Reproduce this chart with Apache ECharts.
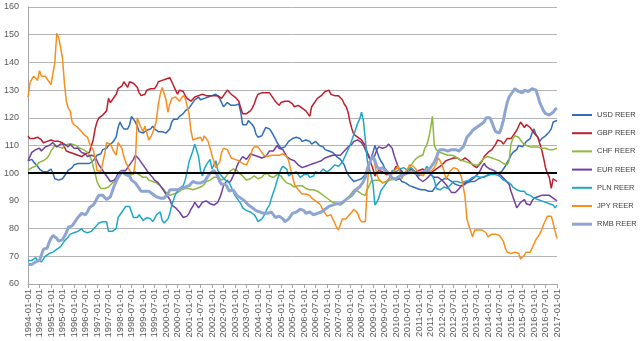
<!DOCTYPE html>
<html>
<head>
<meta charset="utf-8">
<script src="https://cdn.jsdelivr.net/npm/echarts@6/dist/echarts.min.js"></script>
<style>
  html, body { margin: 0; padding: 0; background: #ffffff; }
  #chart { width: 640px; height: 341px; }
</style>
</head>
<body>
<div id="chart"></div>
<script>
// Real effective exchange rate indices, monthly, January 1994 .. January 2017
const FIRST_YEAR = 1994;
const LAST_YEAR = 2017;
const LAST_MONTH = 1;
const months = [];
for (let y = FIRST_YEAR; y <= LAST_YEAR; y++) {
  for (let m = 1; m <= 12; m++) {
    if (y === LAST_YEAR && m > LAST_MONTH) break;
    months.push(y + '-' + String(m).padStart(2, '0') + '-01');
  }
}

const seriesNames = ['USD REER', 'GBP REER', 'CHF REER', 'EUR REER', 'PLN REER', 'JPY REER', 'RMB REER'];
const yMin = 60, yMax = 160, yStep = 10;
const parityLevel = 100;

// one row per year (Jan..Dec), last value is Jan 2017
const usdReer = [
  104.5, 105, 105, 104, 103.5, 102.5, 101.5, 101, 100.5, 100, 100.5, 101,
  101.5, 100, 98, 97.5, 97.5, 97.5, 98, 99, 100, 101, 101.5, 102,
  103, 103, 103.5, 103.5, 103.5, 103, 103.5, 103.5, 103.5, 104, 104.5, 105.5,
  106.5, 106, 107, 108.5, 109, 109, 110, 110, 111, 112, 113, 116.5,
  118.5, 117, 116, 115.5, 116, 117.5, 120.5, 119.5, 118.5, 117, 115, 114.5,
  114.5, 115, 115.5, 115.5, 116, 117, 116, 115.5, 115, 115, 115, 114.5,
  114.5, 115, 116, 118.5, 119.5, 119.5, 119.5, 120.5, 121, 121.5, 122.5, 123,
  123.5, 124.5, 125.5, 126.5, 127, 127.5, 126.5, 126.5, 127, 127, 127.5, 128,
  128, 128.5, 128.5, 128, 127, 125.5, 124, 124.5, 125.5, 125, 124.5, 124,
  124.5, 125, 125, 122, 117.5, 117, 117.5, 119, 119.5, 117.5, 116.5, 114,
  113, 112.5, 113.5, 115, 116.5, 116.5, 116, 115, 114.5, 112.5, 111, 110,
  109, 109, 109.5, 110.5, 111.5, 112, 112.5, 113, 113, 113, 112.5, 111.5,
  111.5, 112, 112.5, 111.5, 110.5, 110.5, 111.5, 111, 110, 110, 109.5, 108.5,
  108.5, 108, 107.5, 107.5, 107, 106, 105.5, 105, 104.5, 103, 101, 99.5,
  98.5, 98, 97, 97, 97.5, 97.5, 98, 98.5, 99.5, 101.5, 103.5, 105.5,
  107.5, 110, 110.5, 106, 104.5, 103.5, 102, 101, 100.5, 99.5, 98.5, 98,
  97.5, 97.5, 98, 97, 97, 96.5, 96, 95.5, 95.5, 95, 95, 94.5,
  94.5, 94, 94, 94, 94, 93.5, 93.5, 93.5, 94.5, 95.5, 96, 97,
  97.5, 98, 98.5, 98, 97.5, 97, 96.5, 96, 95.5, 95.5, 95.5, 95.5,
  96, 96.5, 97, 97, 96.5, 97, 97.5, 98, 98, 98.5, 98.5, 99,
  99, 99.5, 99.5, 100, 100, 100, 100.5, 100.5, 101, 102.5, 104, 105,
  106.5, 107.5, 108, 108.5, 110, 110, 109.5, 110.5, 111.5, 112, 112.5, 114.5,
  116, 114, 113, 111.5, 112.5, 113, 113.5, 114, 115, 116, 118.5, 119,
  119
];

const gbpReer = [
  113.5, 112.5, 112, 112.5, 112.5, 113, 112.5, 112, 111, 111, 111.5, 111.5,
  112, 112, 111.5, 111.5, 111.5, 111, 111, 110.5, 108, 108, 107.5, 107.5,
  107, 106.5, 106.5, 106, 106, 106, 107, 107.5, 107.5, 108, 112, 116,
  118.5, 120, 120.5, 121, 121.5, 122.5, 127, 125.5, 125.5, 127.5, 128.5, 130.5,
  131, 131.5, 133, 133, 131, 133, 132.5, 132.5, 132, 131, 129, 128,
  127.5, 128.5, 130, 130.5, 130.5, 130.5, 130.5, 131.5, 133, 133, 133.5, 133.5,
  134, 134.5, 134.5, 133, 131.5, 130, 128.5, 130, 130.5, 129.5, 128, 127,
  126.5, 126, 126, 127.5, 128, 128, 128, 128.5, 128, 128, 128, 128,
  128.5, 128, 128, 128, 127.5, 127, 128, 129, 130, 129.5, 128.5, 128,
  127.5, 127, 126, 123.5, 121.5, 121, 121.5, 122, 122.5, 123.5, 125, 127,
  128.5, 129, 129, 128.5, 129, 129.5, 129, 128.5, 127, 126, 125.5, 124.5,
  125.5, 126, 126, 126.5, 126, 126, 125, 124, 124.5, 124.5, 124, 123.5,
  123, 122.5, 121.5, 120.5, 124, 125, 126, 127, 127.5, 128, 128.5, 129.5,
  130, 130, 128.5, 128, 128, 128, 128, 128, 126.5, 125, 124, 122,
  118.5, 116, 114, 113.5, 113, 112.5, 112, 111, 110, 107.5, 106, 103.5,
  101.5, 99, 99.5, 101, 101, 100.5, 100.5, 99.5, 99, 99.5, 100, 101,
  102.5, 103, 101.5, 101, 100, 99.5, 100, 100.5, 101.5, 101, 100.5, 100.5,
  101, 101, 101.5, 101, 100.5, 100, 100, 100.5, 101, 101.5, 102, 102.5,
  103, 103.5, 104.5, 105, 105, 105, 105.5, 106, 105.5, 105, 104.5, 105,
  105.5, 105.5, 104.5, 104, 103, 102.5, 102, 102.5, 103.5, 104.5, 106, 106.5,
  107.5, 108, 108.5, 109.5, 110.5, 112, 112, 111.5, 110.5, 111, 112.5, 112.5,
  112.5, 113.5, 114.5, 115.5, 116, 118.5, 117.5, 116.5, 117.5, 118, 116.5, 115.5,
  114.5, 114, 113, 112.5, 108.5, 105.5, 102, 100, 98.5, 94.5, 98, 98,
  97
];

const chfReer = [
  101, 101.5, 102, 101.5, 102.5, 103, 104, 104.5, 104.5, 105, 105.5, 106.5,
  108, 109, 110, 110.5, 109.5, 109, 109, 110, 110, 110.5, 111, 110.5,
  110.5, 110, 109.5, 109, 109, 108.5, 108.5, 107.5, 106.5, 105, 102.5, 100,
  97, 95.5, 94.5, 94.5, 94.5, 95, 95, 95.5, 96.5, 97, 97.5, 98.5,
  100, 100.5, 100.5, 100.5, 100, 100, 99.5, 99, 100.5, 100, 99.5, 99,
  98.5, 98, 98.5, 97.5, 97, 97, 97, 96.5, 96.5, 95.5, 95, 94,
  93, 92.5, 92, 92, 92.5, 93, 93, 93.5, 94, 94, 94.5, 94.5,
  94.5, 94, 94, 94.5, 94.5, 94.5, 95, 95.5, 96, 97, 97.5, 97.5,
  98, 98.5, 99, 98.5, 98, 97.5, 98, 98.5, 99.5, 100.5, 101, 101.5,
  101.5, 101, 100, 99.5, 99, 98.5, 97.5, 98, 98, 98.5, 99, 99.5,
  98, 97.5, 98.5, 99.5, 99.5, 100, 99, 98.5, 98.5, 99, 99.5, 100,
  99, 98, 97.5, 96.5, 96.5, 96, 95.5, 95, 95, 95.5, 95.5, 95.5,
  95, 94.5, 94.5, 94, 93.5, 94, 94, 93.5, 93, 92.5, 92.5, 91.5,
  91, 90.5, 90, 89.5, 89, 89, 88.5, 88.5, 89, 89.5, 90.5, 91,
  92, 93, 94, 94, 93.5, 93, 92.5, 92, 92, 94, 95.5, 97,
  97.5, 97.5, 97.5, 97.5, 97, 96.5, 96.5, 97, 97, 97.5, 97.5, 98,
  98.5, 98.5, 99, 99.5, 100, 100.5, 101, 102, 103, 104, 105, 105.5,
  106, 106, 106.5, 109, 110, 112.5, 116, 120.5, 110, 108.5, 108, 107.5,
  107, 107, 106.5, 106.5, 106.5, 106.5, 106, 106, 105.5, 105, 105, 104.5,
  104.5, 104, 104, 103.5, 103.5, 103, 102.5, 103, 104, 104.5, 105.5, 106,
  106, 105.5, 105.5, 105, 105, 104.5, 104.5, 104, 103.5, 103, 103, 104.5,
  110.5, 112.5, 113.5, 113.5, 113, 112, 111, 110.5, 110, 109.5, 109.5, 109.5,
  109.5, 109.5, 109.5, 109.5, 109, 109, 109, 109, 108.5, 108.5, 108.5, 109,
  109
];

const eurReer = [
  104.5, 106, 107.5, 108, 108.5, 109, 109, 108, 108.5, 109.5, 109.5, 110,
  110.5, 111, 111, 109.5, 109, 110.5, 110.5, 110.5, 110, 109.5, 110.5, 110.5,
  109, 109, 109, 108.5, 107.5, 107.5, 107, 106, 106.5, 106.5, 107, 106,
  104.5, 103, 102, 101, 100, 99, 98.5, 97, 96.5, 97.5, 98.5, 100,
  100.5, 101, 100.5, 101, 102, 103, 104, 105, 106.5, 106, 105, 104,
  103, 102, 101, 100, 99.5, 98.5, 97.5, 97, 96.5, 95.5, 94.5, 93.5,
  92.5, 91.5, 90.5, 88.5, 88, 87.5, 87, 86, 85, 84, 83.5, 84.5,
  85.5, 87, 88, 89.5, 89, 87.5, 88.5, 89.5, 90, 90, 89.5, 89,
  89, 88.5, 88.5, 89.5, 91, 93, 95.5, 96.5, 97.5, 96.5, 97.5, 99,
  100.5, 102.5, 104, 105, 106, 105.5, 105, 106, 107, 106.5, 106.5, 106.5,
  106, 105.5, 105.5, 105.5, 106, 107, 108, 108, 108, 109, 110, 109,
  108.5, 108.5, 108, 106, 105.5, 105, 104.5, 104.5, 104, 103, 102.5, 102,
  102, 102.5, 102.5, 103, 103, 103.5, 103.5, 104, 104, 104.5, 105, 105.5,
  105.5, 106, 106, 106.5, 106.5, 106.5, 106, 106.5, 107, 108, 108.5, 109.5,
  110, 110.5, 111.5, 111.5, 112, 111.5, 111, 110, 108.5, 107, 105.5, 105,
  105, 106.5, 108.5, 109.5, 109.5, 109, 109.5, 109.5, 110.5, 110, 109, 106.5,
  104.5, 102.5, 101, 100.5, 100, 100, 100.5, 100.5, 100.5, 100.5, 100, 99,
  98, 97.5, 97, 97, 98, 98.5, 99.5, 99, 98.5, 98, 98.5, 98.5,
  97.5, 97, 96, 95, 94, 93, 92.5, 93, 93.5, 94.5, 95, 96,
  96.5, 97, 97.5, 97.5, 98, 98.5, 99, 100, 101, 102.5, 103.5, 102.5,
  102, 101.5, 101.5, 101, 101, 100, 99.5, 99, 98.5, 97.5, 97, 96,
  93.5, 91.5, 89.5, 87.5, 88.5, 89.5, 90, 90.5, 89, 88.5, 88.5, 90,
  91, 91.5, 91.5, 92, 92, 92.5, 92, 91.5, 92, 91.5, 91, 90.5,
  90
];

const plnReer = [
  68.5, 68.5, 68.5, 69, 69.5, 68.5, 68.5, 68, 69, 70, 70.5, 71,
  71, 71.5, 72, 72.5, 73, 73.5, 74.5, 75.5, 76, 77, 78, 78.5,
  78.5, 78.5, 79, 79.5, 80, 79, 78.5, 78.5, 79, 79, 79.5, 80.5,
  81, 82, 82.5, 82.5, 82.5, 82.5, 79, 79, 79, 79.5, 80, 84,
  85, 86, 87, 88, 88.5, 88, 88, 84, 83.5, 84, 85, 84,
  83, 82.5, 84, 84.5, 83.5, 82.5, 83.5, 85, 85.5, 86, 83, 82,
  82, 83.5, 85.5, 88.5, 90.5, 92.5, 93.5, 94.5, 95, 95.5, 97.5, 100.5,
  104, 106, 108, 110.5, 110, 106, 101, 99, 101.5, 103, 104, 105,
  101.5, 103, 104.5, 101, 100, 99, 98.5, 97.5, 97, 96.5, 95, 93.5,
  92, 91, 90.5, 89, 87.5, 87, 86.5, 86.5, 86, 85.5, 85, 84,
  82.5, 82, 83.5, 84.5, 86, 87.5, 88.5, 91, 93, 95, 97.5, 99.5,
  101.5, 102.5, 102, 101.5, 99, 99.5, 100, 100, 100.5, 100.5, 98.5, 99,
  99.5, 100, 99.5, 98.5, 98, 99, 100.5, 100, 100, 100.5, 101.5, 101,
  100.5, 101, 101.5, 102, 103, 103, 102.5, 103, 104, 105.5, 107, 108.5,
  110, 112, 114, 116, 118, 119.5, 122, 119, 112, 104.5, 102, 99,
  96, 88.5, 89.5, 91, 93.5, 94.5, 95, 96.5, 97.5, 99, 101, 101,
  100.5, 101, 101.5, 102, 102, 101.5, 101, 101, 102, 101.5, 100.5, 100,
  99, 99.5, 100, 101, 102.5, 101.5, 101, 99, 97.5, 94.5, 94.5, 94,
  94.5, 95, 95, 94.5, 95.5, 96, 97, 97.5, 97, 96.5, 96.5, 96.5,
  97, 97.5, 97.5, 98, 98.5, 99, 99, 98.5, 98.5, 98.5, 98.5, 99,
  99.5, 100, 99.5, 99.5, 99.5, 99, 99, 98.5, 97.5, 97.5, 97, 96.5,
  96, 95, 95, 94, 94, 93.5, 93, 93.5, 92.5, 92, 92, 91.5,
  91, 90.5, 90.5, 90, 90, 89.5, 89.5, 89, 89, 89, 88.5, 87.5,
  88.5
];

const jpyReer = [
  127.5, 132.5, 134, 135, 134.5, 133.5, 137, 135, 134.5, 135, 135, 133,
  132, 131.5, 140, 150.5, 149, 148.5, 141.5, 132.5, 126, 123.5, 122.5, 118.5,
  117.5, 117, 116.5, 116, 115, 114, 113.5, 113, 111, 109.5, 108.5, 105.5,
  101, 100.5, 100.5, 101, 107, 111, 111.5, 110.5, 110, 107.5, 106.5, 111,
  111, 109, 106, 104, 102.5, 101, 100.5, 99.5, 104, 120, 118, 116.5,
  115, 117, 114.5, 112, 113, 114.5, 116.5, 119, 125, 128.5, 131, 130.5,
  126.5, 122, 125, 127, 127, 127.5, 127.5, 126, 126.5, 128, 127, 126.5,
  121.5, 115.5, 112, 112.5, 112.5, 113, 113, 111.5, 113.5, 112.5, 111.5, 109,
  106.5, 104, 102, 102.5, 104, 107.5, 109, 108.5, 108.5, 107, 105.5, 105.5,
  105, 105, 104.5, 104, 103.5, 103, 103, 103.5, 106, 108.5, 109.5, 109.5,
  109.5, 109, 107.5, 106.5, 106, 106, 106, 106.5, 106.5, 106.5, 107, 106.5,
  107, 107, 106.5, 106, 104.5, 101.5, 99, 96, 95, 94, 93.5, 92.5,
  92, 92.5, 93, 92, 91, 90.5, 90, 89.5, 89, 88, 86.5, 85.5,
  84.5, 84.5, 85, 83.5, 82, 80.5, 79.5, 81.5, 83.5, 83.5, 83.5, 84.5,
  85, 86, 87, 86.5, 85.5, 83.5, 82.5, 82, 82.5, 95, 104, 105.5,
  106.5, 103, 99.5, 98, 97.5, 96.5, 96.5, 97, 97.5, 98.5, 100, 100.5,
  101.5, 102.5, 102, 98, 98.5, 100.5, 101.5, 103, 103.5, 102.5, 102, 101,
  100, 99.5, 99, 100, 101.5, 101, 100.5, 100.5, 102, 103.5, 105.5, 104.5,
  103, 101, 98, 99, 100.5, 101, 102, 102.5, 101.5, 100.5, 99, 95.5,
  91.5, 83.5, 81, 79, 77, 79.5, 80, 79.5, 79.5, 79.5, 79.5, 78.5,
  77, 77.5, 78, 78, 78, 78, 77.5, 77, 75.5, 73, 71.5, 71,
  71, 71.5, 71.5, 71, 71, 69, 68.5, 70.5, 71.5, 71.5, 71.5, 73,
  74.5, 76, 77, 78, 79.5, 81.5, 83, 84.5, 85, 84.5, 82, 79,
  76.5
];

const rmbReer = [
  67, 67, 67, 67.5, 68, 68.5, 68.5, 70.5, 72.5, 72.5, 73, 75,
  76.5, 77.5, 77, 76.5, 75.5, 75.5, 76, 76.5, 78.5, 80.5, 80.5, 81,
  82, 82.5, 84, 84.5, 85.5, 85.5, 85, 86, 87.5, 87.5, 88.5, 89.5,
  91, 92, 92.5, 92, 91.5, 90.5, 90.5, 91.5, 93.5, 95.5, 97, 98.5,
  99.5, 100.5, 100.5, 99.5, 99, 99, 97.5, 97, 96.5, 95.5, 94.5, 93.5,
  93.5, 93.5, 93.5, 93.5, 93, 92.5, 92, 91.5, 91.5, 91, 91, 91,
  91.5, 92.5, 94, 94, 94, 94, 94, 94, 94.5, 95, 95, 95.5,
  95.5, 96, 97, 97, 96.5, 96.5, 96.5, 97, 97, 97.5, 99, 100,
  100, 101, 101.5, 99, 97, 96, 95.5, 96, 95, 93.5, 93, 94,
  93, 92, 91.5, 91, 90.5, 90, 89.5, 88.5, 88, 87.5, 87.5, 86.5,
  86.5, 86, 86, 85.5, 85.5, 85.5, 85.5, 86, 85, 84, 84, 84.5,
  84.5, 83.5, 82.5, 82.5, 83.5, 84.5, 85.5, 85.5, 86, 86.5, 87, 87,
  86.5, 85.5, 86, 86, 85.5, 85, 85, 85.5, 86, 86, 86.5, 87,
  87.5, 88, 88.5, 88.5, 89, 89, 89, 89, 89.5, 90, 90.5, 91,
  91.5, 92, 93, 94, 94.5, 95, 95.5, 97, 98.5, 101.5, 103.5, 105,
  106, 104.5, 102.5, 101.5, 101.5, 102, 101.5, 100.5, 100.5, 99.5, 98, 97.5,
  98, 98.5, 99, 99, 99.5, 100, 100, 100.5, 100.5, 100.5, 100, 100,
  100, 100, 100.5, 101, 101, 101.5, 102, 102.5, 104, 105.5, 107.5, 108.5,
  109, 108.5, 108.5, 108, 108, 108.5, 108.5, 108.5, 108, 108, 108, 109.5,
  111, 113, 113.5, 114.5, 115.5, 116, 116.5, 117, 117.5, 118, 118.5, 120,
  120.5, 120, 118.5, 116.5, 115, 114.5, 114.5, 116.5, 119, 122.5, 125.5, 127.5,
  128.5, 129.5, 130.5, 130, 129.5, 129, 129, 130, 130.5, 129.5, 129.5, 130.5,
  130.5, 130, 128, 125.5, 124, 122.5, 121.5, 121, 121, 121.5, 122, 123,
  123.5
];

const seriesValues = [usdReer, gbpReer, chfReer, eurReer, plnReer, jpyReer, rmbReer];

// presentation
const lineColors = ['#2F6EBA', '#BE1E2D', '#8DB93C', '#7340A0', '#1FA7C8', '#F98E1C', '#8EA5D3'];
const lineWidths = [1.5, 1.5, 1.5, 1.5, 1.5, 1.5, 3];
const FONT = '"Liberation Sans", Arial, sans-serif';

const chart = echarts.init(document.getElementById('chart'), null, { renderer: 'canvas' });

const series = seriesNames.map(function (name, i) {
  const s = {
    name: name,
    type: 'line',
    data: seriesValues[i],
    symbol: 'none',
    showSymbol: false,
    smooth: false,
    lineStyle: { color: lineColors[i], width: lineWidths[i] },
    itemStyle: { color: lineColors[i] },
    emphasis: { disabled: true },
    silent: true
  };
  if (i === seriesNames.length - 1) {
    // parity reference at 100
    s.markLine = {
      silent: true,
      symbol: 'none',
      animation: false,
      label: { show: false },
      emphasis: { disabled: true },
      lineStyle: { color: '#000000', width: 2, type: 'solid' },
      data: [{ yAxis: parityLevel }]
    };
  }
  return s;
});

chart.setOption({
  animation: false,
  backgroundColor: '#ffffff',
  textStyle: { fontFamily: FONT },
  grid: { left: 28, right: 83, top: 7, bottom: 57, containLabel: false, outerBoundsMode: 'none' },
  legend: {
    orient: 'vertical',
    left: 572,
    top: 110,
    padding: 0,
    itemWidth: 20,
    itemHeight: 10,
    itemGap: 8.2,
    selectedMode: false,
    textStyle: { fontFamily: FONT, fontSize: 7.5, color: '#404040', lineHeight: 10 },
    data: seriesNames.map(function (name, i) {
      return { name: name, icon: i === seriesNames.length - 1 ? 'path://M0,0H20V3H0Z' : 'path://M0,0H20V2H0Z' };
    })
  },
  xAxis: {
    type: 'category',
    data: months,
    boundaryGap: false,
    axisLine: { show: true, lineStyle: { color: '#A6A6A6', width: 1 } },
    axisTick: { show: true, interval: 5, length: 4, lineStyle: { color: '#A6A6A6' } },
    axisLabel: {
      interval: 5,
      rotate: 90,
      margin: 5,
      fontSize: 9.5,
      color: '#595959',
      fontFamily: FONT
    },
    splitLine: { show: false }
  },
  yAxis: {
    type: 'value',
    min: yMin,
    max: yMax,
    interval: yStep,
    axisLine: { show: true, lineStyle: { color: '#A6A6A6', width: 1 } },
    axisTick: { show: false },
    axisLabel: { fontSize: 9, color: '#595959', margin: 9, fontFamily: FONT },
    splitLine: { show: true, lineStyle: { color: '#B4B4B4', width: 1 } }
  },
  tooltip: { show: false },
  series: series
});
</script>
</body>
</html>
